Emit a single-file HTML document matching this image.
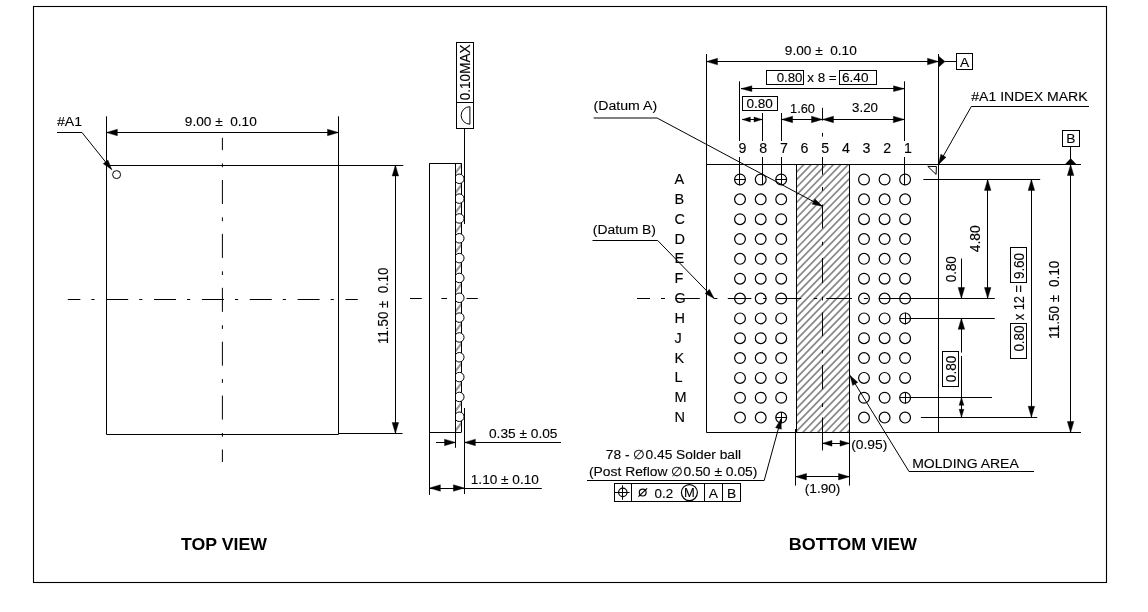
<!DOCTYPE html>
<html><head><meta charset="utf-8"><title>Package drawing</title>
<style>
html,body{margin:0;padding:0;background:#fff;}
body{width:1148px;height:612px;overflow:hidden;font-family:"Liberation Sans",sans-serif;}
svg{display:block;will-change:transform;transform:translateZ(0);filter:grayscale(1)}
svg line,svg polyline,svg rect,svg circle,svg path,svg polygon{fill:none;stroke:#000;stroke-width:1;}
svg .ah{fill:#000;stroke:#000;stroke-width:.4}
svg .fr{stroke-width:1.1}
svg .bl{stroke-width:1.2}
svg .ht line{stroke:#888;stroke-width:1.7}
svg .ht2 line{stroke:#999;stroke-width:2.2}
svg text{font-family:"Liberation Sans",sans-serif;font-size:13.8px;fill:#000;stroke:#000;stroke-width:.12px;}
svg text.b{font-weight:bold;font-size:17.5px;stroke:none}
</style></head>
<body>
<svg width="1148" height="612" viewBox="0 0 1148 612">
<defs>
<clipPath id="c1"><rect x="796.6" y="164.5" width="52.9" height="268"/></clipPath>
<clipPath id="c2"><rect x="455.5" y="163.2" width="5.9" height="269"/></clipPath>
<clipPath id="c3"><rect x="455.5" y="100" width="30" height="400"/></clipPath>
</defs>
<rect x="0" y="0" width="1148" height="612" style="fill:#fff;stroke:none"/>
<rect x="33.5" y="6.5" width="1073" height="576" class="fr"/>
<line x1="106.5" y1="116.3" x2="106.5" y2="434.3" />
<line x1="338.5" y1="116.3" x2="338.5" y2="434.3" />
<line x1="106.4" y1="165.5" x2="403.3" y2="165.5" />
<line x1="106.4" y1="434.5" x2="338.5" y2="434.5" />
<line x1="338.5" y1="433.5" x2="402.5" y2="433.5" />
<line x1="106.4" y1="132.5" x2="338.5" y2="132.5" />
<polygon class="ah" points="106.4,132.5 117.4,129.25 117.4,135.75"/>
<polygon class="ah" points="338.5,132.5 327.5,135.75 327.5,129.25"/>
<text transform="translate(184.8 125.8) scale(1 0.965)" textLength="72" lengthAdjust="spacingAndGlyphs">9.00 ±&#160; 0.10</text>
<line x1="395.5" y1="165" x2="395.5" y2="433.5" />
<polygon class="ah" points="395.4,165 398.65,176 392.15,176"/>
<polygon class="ah" points="395.4,433.5 392.15,422.5 398.65,422.5"/>
<text textLength="76.4" lengthAdjust="spacingAndGlyphs" transform="translate(388.2 343.9) rotate(-90)">11.50 ±&#160; 0.10</text>
<text transform="translate(57 126) scale(1 0.965)" textLength="25" lengthAdjust="spacingAndGlyphs">#A1</text>
<polyline points="57,132.5 82,132.5 111.7,169.6"/>
<polygon class="ah" points="111.7,169.6 103.23,163.82 107.92,160.07"/>
<circle cx="116.6" cy="174.6" r="4"/>
<line x1="222.4" y1="137.8" x2="222.4" y2="462" stroke-dasharray="24 13.4 3.7 12.8" stroke-dashoffset="11.7"/>
<line x1="67.8" y1="299.5" x2="357.8" y2="299.5" stroke-dasharray="22 11 3.2 11.65" stroke-dashoffset="9.45"/>
<line x1="410" y1="298.5" x2="421.8" y2="298.5" />
<line x1="441.4" y1="298.5" x2="447" y2="298.5" />
<line x1="466.5" y1="298.5" x2="477.8" y2="298.5" />
<text transform="translate(181 550.3) scale(1 0.965)" textLength="86" lengthAdjust="spacingAndGlyphs" class="b">TOP VIEW</text>
<g clip-path="url(#c2)" class="ht2">
<line x1="454.5" y1="174.18" x2="462.4" y2="163.78"/>
<line x1="454.5" y1="194.01" x2="462.4" y2="183.62"/>
<line x1="454.5" y1="213.84" x2="462.4" y2="203.45"/>
<line x1="454.5" y1="233.67" x2="462.4" y2="223.28"/>
<line x1="454.5" y1="253.5" x2="462.4" y2="243.1"/>
<line x1="454.5" y1="273.34" x2="462.4" y2="262.94"/>
<line x1="454.5" y1="293.17" x2="462.4" y2="282.77"/>
<line x1="454.5" y1="313" x2="462.4" y2="302.6"/>
<line x1="454.5" y1="332.83" x2="462.4" y2="322.43"/>
<line x1="454.5" y1="352.65" x2="462.4" y2="342.25"/>
<line x1="454.5" y1="372.49" x2="462.4" y2="362.09"/>
<line x1="454.5" y1="392.31" x2="462.4" y2="381.92"/>
<line x1="454.5" y1="412.14" x2="462.4" y2="401.75"/>
<line x1="454.5" y1="431.98" x2="462.4" y2="421.58"/>
</g>
<line x1="461.5" y1="163.2" x2="461.5" y2="432.2" />
<circle cx="459.3" cy="178.8" r="4.75" style="fill:#fff" clip-path="url(#c3)"/>
<circle cx="459.3" cy="198.63" r="4.75" style="fill:#fff" clip-path="url(#c3)"/>
<circle cx="459.3" cy="218.46" r="4.75" style="fill:#fff" clip-path="url(#c3)"/>
<circle cx="459.3" cy="238.29" r="4.75" style="fill:#fff" clip-path="url(#c3)"/>
<circle cx="459.3" cy="258.12" r="4.75" style="fill:#fff" clip-path="url(#c3)"/>
<circle cx="459.3" cy="277.95" r="4.75" style="fill:#fff" clip-path="url(#c3)"/>
<circle cx="459.3" cy="297.78" r="4.75" style="fill:#fff" clip-path="url(#c3)"/>
<circle cx="459.3" cy="317.61" r="4.75" style="fill:#fff" clip-path="url(#c3)"/>
<circle cx="459.3" cy="337.44" r="4.75" style="fill:#fff" clip-path="url(#c3)"/>
<circle cx="459.3" cy="357.27" r="4.75" style="fill:#fff" clip-path="url(#c3)"/>
<circle cx="459.3" cy="377.1" r="4.75" style="fill:#fff" clip-path="url(#c3)"/>
<circle cx="459.3" cy="396.93" r="4.75" style="fill:#fff" clip-path="url(#c3)"/>
<circle cx="459.3" cy="416.76" r="4.75" style="fill:#fff" clip-path="url(#c3)"/>
<line x1="429.4" y1="163.5" x2="461.4" y2="163.5" />
<line x1="429.5" y1="163.2" x2="429.5" y2="494.9" />
<line x1="455.5" y1="163.2" x2="455.5" y2="447.8" />
<line x1="429.4" y1="432.5" x2="461.4" y2="432.5" />
<rect x="456.5" y="42.5" width="17" height="86" />
<line x1="456.4" y1="102.5" x2="473.7" y2="102.5" />
<text textLength="56" lengthAdjust="spacingAndGlyphs" transform="translate(470.3 100.3) rotate(-90)">0.10MAX</text>
<path d="M469.9,106.7 L469.9,124.2 A8.75,8.75 0 0 1 469.9,106.7 Z"/>
<line x1="464.5" y1="128.2" x2="464.5" y2="224" />
<line x1="464.5" y1="408" x2="464.5" y2="494" />
<line x1="436" y1="442.5" x2="455.5" y2="442.5" />
<polygon class="ah" points="455.5,442.4 444.5,445.65 444.5,439.15"/>
<line x1="464.4" y1="442.5" x2="561" y2="442.5" />
<polygon class="ah" points="464.4,442.4 475.4,439.15 475.4,445.65"/>
<text transform="translate(489 438.4) scale(1 0.965)" textLength="68.5" lengthAdjust="spacingAndGlyphs">0.35 ± 0.05</text>
<line x1="429.4" y1="488.5" x2="541.8" y2="488.5" />
<polygon class="ah" points="429.4,488 440.4,484.75 440.4,491.25"/>
<polygon class="ah" points="464.4,488 453.4,491.25 453.4,484.75"/>
<text transform="translate(470.8 483.5) scale(1 0.965)" textLength="68" lengthAdjust="spacingAndGlyphs">1.10 ± 0.10</text>
<g clip-path="url(#c1)" class="ht">
<line x1="690.35" y1="159.5" x2="420.45" y2="437.5"/>
<line x1="697.75" y1="159.5" x2="427.85" y2="437.5"/>
<line x1="705.15" y1="159.5" x2="435.25" y2="437.5"/>
<line x1="712.55" y1="159.5" x2="442.65" y2="437.5"/>
<line x1="719.95" y1="159.5" x2="450.05" y2="437.5"/>
<line x1="727.35" y1="159.5" x2="457.45" y2="437.5"/>
<line x1="734.75" y1="159.5" x2="464.85" y2="437.5"/>
<line x1="742.15" y1="159.5" x2="472.25" y2="437.5"/>
<line x1="749.55" y1="159.5" x2="479.65" y2="437.5"/>
<line x1="756.95" y1="159.5" x2="487.05" y2="437.5"/>
<line x1="764.35" y1="159.5" x2="494.45" y2="437.5"/>
<line x1="771.75" y1="159.5" x2="501.85" y2="437.5"/>
<line x1="779.15" y1="159.5" x2="509.25" y2="437.5"/>
<line x1="786.55" y1="159.5" x2="516.65" y2="437.5"/>
<line x1="793.95" y1="159.5" x2="524.05" y2="437.5"/>
<line x1="801.35" y1="159.5" x2="531.45" y2="437.5"/>
<line x1="808.75" y1="159.5" x2="538.85" y2="437.5"/>
<line x1="816.15" y1="159.5" x2="546.25" y2="437.5"/>
<line x1="823.55" y1="159.5" x2="553.65" y2="437.5"/>
<line x1="830.95" y1="159.5" x2="561.05" y2="437.5"/>
<line x1="838.35" y1="159.5" x2="568.45" y2="437.5"/>
<line x1="845.75" y1="159.5" x2="575.85" y2="437.5"/>
<line x1="853.15" y1="159.5" x2="583.25" y2="437.5"/>
<line x1="860.55" y1="159.5" x2="590.65" y2="437.5"/>
<line x1="867.95" y1="159.5" x2="598.05" y2="437.5"/>
<line x1="875.35" y1="159.5" x2="605.45" y2="437.5"/>
<line x1="882.75" y1="159.5" x2="612.85" y2="437.5"/>
<line x1="890.15" y1="159.5" x2="620.25" y2="437.5"/>
<line x1="897.55" y1="159.5" x2="627.65" y2="437.5"/>
<line x1="904.95" y1="159.5" x2="635.05" y2="437.5"/>
<line x1="912.35" y1="159.5" x2="642.45" y2="437.5"/>
<line x1="919.75" y1="159.5" x2="649.85" y2="437.5"/>
<line x1="927.15" y1="159.5" x2="657.25" y2="437.5"/>
<line x1="934.55" y1="159.5" x2="664.65" y2="437.5"/>
<line x1="941.95" y1="159.5" x2="672.05" y2="437.5"/>
<line x1="949.35" y1="159.5" x2="679.45" y2="437.5"/>
<line x1="956.75" y1="159.5" x2="686.85" y2="437.5"/>
<line x1="964.15" y1="159.5" x2="694.25" y2="437.5"/>
<line x1="971.55" y1="159.5" x2="701.65" y2="437.5"/>
<line x1="978.95" y1="159.5" x2="709.05" y2="437.5"/>
<line x1="986.35" y1="159.5" x2="716.45" y2="437.5"/>
<line x1="993.75" y1="159.5" x2="723.85" y2="437.5"/>
<line x1="1001.15" y1="159.5" x2="731.25" y2="437.5"/>
<line x1="1008.55" y1="159.5" x2="738.65" y2="437.5"/>
<line x1="1015.95" y1="159.5" x2="746.05" y2="437.5"/>
<line x1="1023.35" y1="159.5" x2="753.45" y2="437.5"/>
<line x1="1030.75" y1="159.5" x2="760.85" y2="437.5"/>
<line x1="1038.15" y1="159.5" x2="768.25" y2="437.5"/>
<line x1="1045.55" y1="159.5" x2="775.65" y2="437.5"/>
<line x1="1052.95" y1="159.5" x2="783.05" y2="437.5"/>
<line x1="1060.35" y1="159.5" x2="790.45" y2="437.5"/>
<line x1="1067.75" y1="159.5" x2="797.85" y2="437.5"/>
<line x1="1075.15" y1="159.5" x2="805.25" y2="437.5"/>
<line x1="1082.55" y1="159.5" x2="812.65" y2="437.5"/>
<line x1="1089.95" y1="159.5" x2="820.05" y2="437.5"/>
<line x1="1097.35" y1="159.5" x2="827.45" y2="437.5"/>
<line x1="1104.75" y1="159.5" x2="834.85" y2="437.5"/>
<line x1="1112.15" y1="159.5" x2="842.25" y2="437.5"/>
</g>
<line x1="706.5" y1="54" x2="706.5" y2="432.5" />
<line x1="938.5" y1="54" x2="938.5" y2="432.5" />
<line x1="706.5" y1="164.5" x2="1081" y2="164.5" />
<line x1="706.5" y1="432.5" x2="1081" y2="432.5" />
<line x1="796.5" y1="164.5" x2="796.5" y2="432.5" />
<line x1="795.5" y1="429" x2="795.5" y2="485.6" />
<line x1="849.5" y1="164.5" x2="849.5" y2="485.6" />
<circle class="bl" cx="740" cy="179.5" r="5.4"/>
<circle class="bl" cx="760.7" cy="179.5" r="5.4"/>
<circle class="bl" cx="781.2" cy="179.5" r="5.4"/>
<circle class="bl" cx="864" cy="179.5" r="5.4"/>
<circle class="bl" cx="884.6" cy="179.5" r="5.4"/>
<circle class="bl" cx="905.1" cy="179.5" r="5.4"/>
<text transform="translate(674.5 184) scale(1 0.965)" style="font-size:14.5px">A</text>
<circle class="bl" cx="740" cy="199.34" r="5.4"/>
<circle class="bl" cx="760.7" cy="199.34" r="5.4"/>
<circle class="bl" cx="781.2" cy="199.34" r="5.4"/>
<circle class="bl" cx="864" cy="199.34" r="5.4"/>
<circle class="bl" cx="884.6" cy="199.34" r="5.4"/>
<circle class="bl" cx="905.1" cy="199.34" r="5.4"/>
<text transform="translate(674.5 203.84) scale(1 0.965)" style="font-size:14.5px">B</text>
<circle class="bl" cx="740" cy="219.18" r="5.4"/>
<circle class="bl" cx="760.7" cy="219.18" r="5.4"/>
<circle class="bl" cx="781.2" cy="219.18" r="5.4"/>
<circle class="bl" cx="864" cy="219.18" r="5.4"/>
<circle class="bl" cx="884.6" cy="219.18" r="5.4"/>
<circle class="bl" cx="905.1" cy="219.18" r="5.4"/>
<text transform="translate(674.5 223.68) scale(1 0.965)" style="font-size:14.5px">C</text>
<circle class="bl" cx="740" cy="239.02" r="5.4"/>
<circle class="bl" cx="760.7" cy="239.02" r="5.4"/>
<circle class="bl" cx="781.2" cy="239.02" r="5.4"/>
<circle class="bl" cx="864" cy="239.02" r="5.4"/>
<circle class="bl" cx="884.6" cy="239.02" r="5.4"/>
<circle class="bl" cx="905.1" cy="239.02" r="5.4"/>
<text transform="translate(674.5 243.52) scale(1 0.965)" style="font-size:14.5px">D</text>
<circle class="bl" cx="740" cy="258.86" r="5.4"/>
<circle class="bl" cx="760.7" cy="258.86" r="5.4"/>
<circle class="bl" cx="781.2" cy="258.86" r="5.4"/>
<circle class="bl" cx="864" cy="258.86" r="5.4"/>
<circle class="bl" cx="884.6" cy="258.86" r="5.4"/>
<circle class="bl" cx="905.1" cy="258.86" r="5.4"/>
<text transform="translate(674.5 263.36) scale(1 0.965)" style="font-size:14.5px">E</text>
<circle class="bl" cx="740" cy="278.7" r="5.4"/>
<circle class="bl" cx="760.7" cy="278.7" r="5.4"/>
<circle class="bl" cx="781.2" cy="278.7" r="5.4"/>
<circle class="bl" cx="864" cy="278.7" r="5.4"/>
<circle class="bl" cx="884.6" cy="278.7" r="5.4"/>
<circle class="bl" cx="905.1" cy="278.7" r="5.4"/>
<text transform="translate(674.5 283.2) scale(1 0.965)" style="font-size:14.5px">F</text>
<circle class="bl" cx="740" cy="298.54" r="5.4"/>
<circle class="bl" cx="760.7" cy="298.54" r="5.4"/>
<circle class="bl" cx="781.2" cy="298.54" r="5.4"/>
<circle class="bl" cx="864" cy="298.54" r="5.4"/>
<circle class="bl" cx="884.6" cy="298.54" r="5.4"/>
<circle class="bl" cx="905.1" cy="298.54" r="5.4"/>
<text transform="translate(674.5 303.04) scale(1 0.965)" style="font-size:14.5px">G</text>
<circle class="bl" cx="740" cy="318.38" r="5.4"/>
<circle class="bl" cx="760.7" cy="318.38" r="5.4"/>
<circle class="bl" cx="781.2" cy="318.38" r="5.4"/>
<circle class="bl" cx="864" cy="318.38" r="5.4"/>
<circle class="bl" cx="884.6" cy="318.38" r="5.4"/>
<circle class="bl" cx="905.1" cy="318.38" r="5.4"/>
<text transform="translate(674.5 322.88) scale(1 0.965)" style="font-size:14.5px">H</text>
<circle class="bl" cx="740" cy="338.22" r="5.4"/>
<circle class="bl" cx="760.7" cy="338.22" r="5.4"/>
<circle class="bl" cx="781.2" cy="338.22" r="5.4"/>
<circle class="bl" cx="864" cy="338.22" r="5.4"/>
<circle class="bl" cx="884.6" cy="338.22" r="5.4"/>
<circle class="bl" cx="905.1" cy="338.22" r="5.4"/>
<text transform="translate(674.5 342.72) scale(1 0.965)" style="font-size:14.5px">J</text>
<circle class="bl" cx="740" cy="358.06" r="5.4"/>
<circle class="bl" cx="760.7" cy="358.06" r="5.4"/>
<circle class="bl" cx="781.2" cy="358.06" r="5.4"/>
<circle class="bl" cx="864" cy="358.06" r="5.4"/>
<circle class="bl" cx="884.6" cy="358.06" r="5.4"/>
<circle class="bl" cx="905.1" cy="358.06" r="5.4"/>
<text transform="translate(674.5 362.56) scale(1 0.965)" style="font-size:14.5px">K</text>
<circle class="bl" cx="740" cy="377.9" r="5.4"/>
<circle class="bl" cx="760.7" cy="377.9" r="5.4"/>
<circle class="bl" cx="781.2" cy="377.9" r="5.4"/>
<circle class="bl" cx="864" cy="377.9" r="5.4"/>
<circle class="bl" cx="884.6" cy="377.9" r="5.4"/>
<circle class="bl" cx="905.1" cy="377.9" r="5.4"/>
<text transform="translate(674.5 382.4) scale(1 0.965)" style="font-size:14.5px">L</text>
<circle class="bl" cx="740" cy="397.74" r="5.4"/>
<circle class="bl" cx="760.7" cy="397.74" r="5.4"/>
<circle class="bl" cx="781.2" cy="397.74" r="5.4"/>
<circle class="bl" cx="864" cy="397.74" r="5.4"/>
<circle class="bl" cx="884.6" cy="397.74" r="5.4"/>
<circle class="bl" cx="905.1" cy="397.74" r="5.4"/>
<text transform="translate(674.5 402.24) scale(1 0.965)" style="font-size:14.5px">M</text>
<circle class="bl" cx="740" cy="417.58" r="5.4"/>
<circle class="bl" cx="760.7" cy="417.58" r="5.4"/>
<circle class="bl" cx="781.2" cy="417.58" r="5.4"/>
<circle class="bl" cx="864" cy="417.58" r="5.4"/>
<circle class="bl" cx="884.6" cy="417.58" r="5.4"/>
<circle class="bl" cx="905.1" cy="417.58" r="5.4"/>
<text transform="translate(674.5 422.08) scale(1 0.965)" style="font-size:14.5px">N</text>
<line x1="706.5" y1="61.5" x2="938.5" y2="61.5" />
<polygon class="ah" points="706.5,61.6 717.5,58.35 717.5,64.85"/>
<polygon class="ah" points="938.5,61.6 927.5,64.85 927.5,58.35"/>
<text transform="translate(784.8 55) scale(1 0.965)" textLength="72" lengthAdjust="spacingAndGlyphs">9.00 ±&#160; 0.10</text>
<polygon class="ah" points="938.5,56 938.5,67.3 945,61.6"/>
<line x1="945" y1="61.5" x2="956.3" y2="61.5" />
<rect x="956.5" y="53.5" width="16" height="16" />
<text transform="translate(964.6 66.5) scale(1 0.965)" text-anchor="middle">A</text>
<rect x="766.5" y="70.5" width="37" height="14" />
<text transform="translate(776.7 81.8) scale(1 0.965)" textLength="25.8" lengthAdjust="spacingAndGlyphs">0.80</text>
<text transform="translate(807.2 81.8) scale(1 0.965)" textLength="29.5" lengthAdjust="spacingAndGlyphs">x 8 =</text>
<rect x="839.5" y="70.5" width="37" height="14" />
<text transform="translate(842 81.8) scale(1 0.965)" textLength="26.5" lengthAdjust="spacingAndGlyphs">6.40</text>
<line x1="741" y1="88.5" x2="904.4" y2="88.5" />
<polygon class="ah" points="741,88.7 751.9,85.8 751.9,91.6"/>
<polygon class="ah" points="904.4,88.7 893.5,91.6 893.5,85.8"/>
<line x1="739.5" y1="81.3" x2="739.5" y2="141" />
<line x1="739.5" y1="157" x2="739.5" y2="185.2" />
<line x1="904.5" y1="81.3" x2="904.5" y2="141" />
<line x1="904.5" y1="157" x2="904.5" y2="185.2" />
<line x1="762.5" y1="113" x2="762.5" y2="141" />
<line x1="762.5" y1="157" x2="762.5" y2="185.2" />
<line x1="781.5" y1="113" x2="781.5" y2="141" />
<line x1="781.5" y1="157" x2="781.5" y2="185.2" />
<rect x="742.5" y="96.5" width="35" height="14" />
<text transform="translate(746.5 107.6) scale(1 0.965)" textLength="26.4" lengthAdjust="spacingAndGlyphs">0.80</text>
<line x1="742.3" y1="119.5" x2="762.4" y2="119.5" />
<polygon class="ah" points="742.2,119.5 750.4,117 750.4,122"/>
<polygon class="ah" points="762.2,119.5 754,122 754,117"/>
<line x1="781.6" y1="119.5" x2="904.3" y2="119.5" />
<polygon class="ah" points="781.6,119.4 792.6,116.15 792.6,122.65"/>
<polygon class="ah" points="822.5,119.4 811.5,122.65 811.5,116.15"/>
<polygon class="ah" points="822.5,119.4 833.5,116.15 833.5,122.65"/>
<polygon class="ah" points="904.3,119.4 893.3,122.65 893.3,116.15"/>
<text transform="translate(790 112.7) scale(1 0.965)" textLength="25" lengthAdjust="spacingAndGlyphs">1.60</text>
<text transform="translate(852 112.4) scale(1 0.965)" textLength="26" lengthAdjust="spacingAndGlyphs">3.20</text>
<text transform="translate(738.6 152.5) scale(1 0.965)" style="font-size:14.2px">9</text>
<text transform="translate(759.26 152.5) scale(1 0.965)" style="font-size:14.2px">8</text>
<text transform="translate(779.92 152.5) scale(1 0.965)" style="font-size:14.2px">7</text>
<text transform="translate(800.58 152.5) scale(1 0.965)" style="font-size:14.2px">6</text>
<text transform="translate(821.24 152.5) scale(1 0.965)" style="font-size:14.2px">5</text>
<text transform="translate(841.9 152.5) scale(1 0.965)" style="font-size:14.2px">4</text>
<text transform="translate(862.56 152.5) scale(1 0.965)" style="font-size:14.2px">3</text>
<text transform="translate(883.22 152.5) scale(1 0.965)" style="font-size:14.2px">2</text>
<text transform="translate(903.88 152.5) scale(1 0.965)" style="font-size:14.2px">1</text>
<line x1="822.5" y1="107.8" x2="822.5" y2="120.6" />
<line x1="822.5" y1="132.9" x2="822.5" y2="136.6" />
<line x1="822.5" y1="157" x2="822.5" y2="174.7" />
<line x1="822.5" y1="187" x2="822.5" y2="190.8" />
<line x1="822.5" y1="204.6" x2="822.5" y2="228.4" />
<line x1="822.5" y1="241.8" x2="822.5" y2="245.4" />
<line x1="822.5" y1="258" x2="822.5" y2="283" />
<line x1="822.5" y1="296.7" x2="822.5" y2="300.4" />
<line x1="822.5" y1="312.4" x2="822.5" y2="336.2" />
<line x1="822.5" y1="350" x2="822.5" y2="353.5" />
<line x1="822.5" y1="365" x2="822.5" y2="389.3" />
<line x1="822.5" y1="403.3" x2="822.5" y2="407" />
<line x1="822.5" y1="417.5" x2="822.5" y2="450.4" />
<line x1="637" y1="298.5" x2="994.8" y2="298.5" stroke-dasharray="13 11 4 10.5 24.3 14.4 3.2 10.4 23.6 11.7 3.2 10.7 24.3 12.5 3.4 9 25.7 12 4 11 200"/>
<line x1="734.4" y1="179.5" x2="745.6" y2="179.5" />
<line x1="775.6" y1="179.5" x2="786.8" y2="179.5" />
<line x1="775.6" y1="417.5" x2="786.8" y2="417.5" />
<line x1="781.5" y1="411.98" x2="781.5" y2="423.18" />
<line x1="905.5" y1="312.68" x2="905.5" y2="324.28" />
<line x1="905.5" y1="392.04" x2="905.5" y2="403.64" />
<line x1="899.6" y1="318.5" x2="994.8" y2="318.5" />
<line x1="899.6" y1="397.5" x2="992" y2="397.5" />
<line x1="923.3" y1="179.5" x2="1040.2" y2="179.5" />
<line x1="920.9" y1="417.5" x2="1037.2" y2="417.5" />
<polygon points="927.8,166.4 936.4,166.5 936.1,174.4"/>
<text transform="translate(971.3 101) scale(1 0.965)" textLength="116.3" lengthAdjust="spacingAndGlyphs">#A1 INDEX MARK</text>
<polyline points="1089,106.5 971.3,106.5 938.5,164.5"/>
<polygon class="ah" points="938.5,164.5 940.82,154.32 946.04,157.28"/>
<rect x="1062.5" y="130.5" width="17" height="16" />
<text transform="translate(1070.8 143.2) scale(1 0.965)" text-anchor="middle">B</text>
<line x1="1070.5" y1="146.3" x2="1070.5" y2="159" />
<polygon class="ah" points="1065,164.5 1076.4,164.5 1070.7,158.6"/>
<line x1="1070.5" y1="164.5" x2="1070.5" y2="432.5" />
<polygon class="ah" points="1070.6,164.5 1073.85,175.5 1067.35,175.5"/>
<polygon class="ah" points="1070.6,432.5 1067.35,421.5 1073.85,421.5"/>
<text textLength="78.4" lengthAdjust="spacingAndGlyphs" transform="translate(1059.4 339) rotate(-90)">11.50 ±&#160; 0.10</text>
<line x1="1031.5" y1="179.4" x2="1031.5" y2="417.3" />
<polygon class="ah" points="1031.4,179.4 1034.65,190.4 1028.15,190.4"/>
<polygon class="ah" points="1031.4,417.3 1028.15,406.3 1034.65,406.3"/>
<rect x="1010.5" y="323.5" width="16" height="35" />
<rect x="1010.5" y="247.5" width="16" height="35" />
<text textLength="26" lengthAdjust="spacingAndGlyphs" transform="translate(1023.6 351.6) rotate(-90)">0.80</text>
<text textLength="35.3" lengthAdjust="spacingAndGlyphs" transform="translate(1023.6 320.3) rotate(-90)">x 12 =</text>
<text textLength="26.2" lengthAdjust="spacingAndGlyphs" transform="translate(1023.6 279.1) rotate(-90)">9.60</text>
<line x1="987.5" y1="179.4" x2="987.5" y2="298.5" />
<polygon class="ah" points="987.7,179.4 990.95,190.4 984.45,190.4"/>
<polygon class="ah" points="987.7,298.5 984.45,287.5 990.95,287.5"/>
<text textLength="27" lengthAdjust="spacingAndGlyphs" transform="translate(979.7 252.2) rotate(-90)">4.80</text>
<line x1="961.5" y1="258.5" x2="961.5" y2="298.5" />
<polygon class="ah" points="961.4,298.5 958.15,287.5 964.65,287.5"/>
<text textLength="26.1" lengthAdjust="spacingAndGlyphs" transform="translate(956.2 282.3) rotate(-90)">0.80</text>
<line x1="961.5" y1="318.3" x2="961.5" y2="352.6" />
<line x1="961.5" y1="356" x2="961.5" y2="417.3" />
<polygon class="ah" points="961.4,318.3 964.65,329.3 958.15,329.3"/>
<polygon class="ah" points="961.5,397.3 963.9,405.3 959.1,405.3"/>
<polygon class="ah" points="961.5,417.3 959.1,409.3 963.9,409.3"/>
<rect x="942.5" y="351.5" width="16" height="35" />
<text textLength="26.6" lengthAdjust="spacingAndGlyphs" transform="translate(955.6 382.2) rotate(-90)">0.80</text>
<text transform="translate(593.6 110) scale(1 0.965)" textLength="63.5" lengthAdjust="spacingAndGlyphs">(Datum A)</text>
<polyline points="593.6,118 657.1,118 822.3,206.3"/>
<polygon class="ah" points="822.4,206.3 812.17,204.23 815,198.94"/>
<text transform="translate(592.8 233.9) scale(1 0.965)" textLength="63.2" lengthAdjust="spacingAndGlyphs">(Datum B)</text>
<polyline points="592.5,240.5 657.7,240.5 714.2,298.6"/>
<polygon class="ah" points="714.2,298.6 705.08,293.52 709.38,289.34"/>
<text transform="translate(605.8 458.6) scale(1 0.965)" textLength="135.3" lengthAdjust="spacingAndGlyphs">78 - ∅0.45 Solder ball</text>
<text transform="translate(589 475.8) scale(1 0.965)" textLength="168.4" lengthAdjust="spacingAndGlyphs">(Post Reflow ∅0.50 ± 0.05)</text>
<polyline points="587,480.5 764.2,480.5 781.1,418.8"/>
<polygon class="ah" points="781.1,418.8 781.35,429.24 775.56,427.65"/>
<rect x="614.5" y="483.5" width="126" height="18" />
<line x1="631.5" y1="483.5" x2="631.5" y2="501.4" />
<line x1="704.5" y1="483.5" x2="704.5" y2="501.4" />
<line x1="722.5" y1="483.5" x2="722.5" y2="501.4" />
<circle cx="622.8" cy="492.4" r="4.2" class="bl"/>
<line x1="614.5" y1="492.5" x2="629.6" y2="492.5" />
<line x1="622.5" y1="485.3" x2="622.5" y2="499.7" />
<circle cx="642.7" cy="492.6" r="3.4" class="bl"/>
<line x1="638.4" y1="496.6" x2="647.1" y2="488.4" class="bl"/>
<text transform="translate(654.6 497.7) scale(1 0.965)" textLength="18.6" lengthAdjust="spacingAndGlyphs">0.2</text>
<circle cx="689.4" cy="492.6" r="8" class="bl"/>
<text transform="translate(689.4 497.4) scale(1 0.965)" text-anchor="middle" style="font-size:13px">M</text>
<text transform="translate(713.4 497.6) scale(1 0.965)" text-anchor="middle">A</text>
<text transform="translate(731.6 497.6) scale(1 0.965)" text-anchor="middle">B</text>
<line x1="822.5" y1="443.5" x2="849.5" y2="443.5" />
<polygon class="ah" points="822.5,443.3 832,440.4 832,446.2"/>
<polygon class="ah" points="849.5,443.3 840,446.2 840,440.4"/>
<text transform="translate(851.2 448.7) scale(1 0.965)" textLength="36.2" lengthAdjust="spacingAndGlyphs">(0.95)</text>
<line x1="795.5" y1="476.5" x2="849.5" y2="476.5" />
<polygon class="ah" points="795.5,476.7 806.5,473.45 806.5,479.95"/>
<polygon class="ah" points="849.5,476.7 838.5,479.95 838.5,473.45"/>
<text transform="translate(804.8 492.8) scale(1 0.965)" textLength="35.6" lengthAdjust="spacingAndGlyphs">(1.90)</text>
<text transform="translate(912.2 467.6) scale(1 0.965)" textLength="106.6" lengthAdjust="spacingAndGlyphs">MOLDING AREA</text>
<polyline points="1034,471.5 909,471.5 850,375.4"/>
<polygon class="ah" points="850,375.4 857.79,382.35 852.68,385.49"/>
<text transform="translate(788.8 550.2) scale(1 0.965)" textLength="128.2" lengthAdjust="spacingAndGlyphs" class="b">BOTTOM VIEW</text>
</svg>
</body></html>
